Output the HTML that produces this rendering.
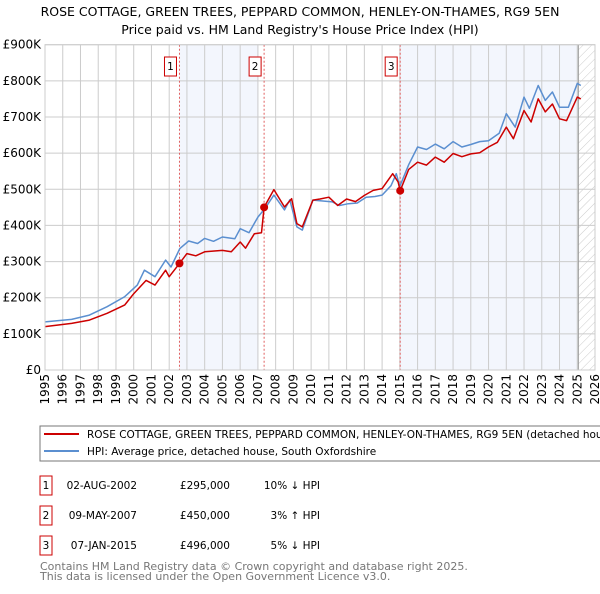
<!DOCTYPE html>
<html><head><meta charset="utf-8"><style>
body{margin:0;background:#fff;width:600px;height:590px;overflow:hidden;font-family:"DejaVu Sans","Liberation Sans",sans-serif;}
svg text{font-family:"DejaVu Sans","Liberation Sans",sans-serif;}
</style></head><body>
<svg id="chart" width="600" height="590" xmlns="http://www.w3.org/2000/svg">
<defs><pattern id="hatch" width="6" height="6" patternUnits="userSpaceOnUse" patternTransform="rotate(45)"><line x1="0" y1="0" x2="0" y2="6" stroke="#ccc" stroke-width="1"/></pattern></defs>
<text x="300" y="16" text-anchor="middle" font-size="12.5">ROSE COTTAGE, GREEN TREES, PEPPARD COMMON, HENLEY-ON-THAMES, RG9 5EN</text>
<text x="300" y="34" text-anchor="middle" font-size="12.5">Price paid vs. HM Land Registry's House Price Index (HPI)</text>
<g id="plot"></g>
<g>
<rect x="40" y="426" width="580" height="35" fill="#fff" stroke="#777"/>
<line x1="44" y1="434" x2="79" y2="434" stroke="#cc0000" stroke-width="2"/>
<text x="87" y="438" font-size="10.5">ROSE COTTAGE, GREEN TREES, PEPPARD COMMON, HENLEY-ON-THAMES, RG9 5EN (detached house)</text>
<line x1="44" y1="451" x2="79" y2="451" stroke="#5b8fd0" stroke-width="2"/>
<text x="87" y="455" font-size="10.5">HPI: Average price, detached house, South Oxfordshire</text>
</g>
<g font-size="10.5">
<rect x="40" y="476" width="12" height="19" fill="#fff" stroke="#cc0000"/><text x="46" y="489" text-anchor="middle">1</text>
<text x="137" y="489" text-anchor="end">02-AUG-2002</text><text x="230" y="489" text-anchor="end">£295,000</text><text x="320" y="489" text-anchor="end">10% ↓ HPI</text>
<rect x="40" y="506" width="12" height="19" fill="#fff" stroke="#cc0000"/><text x="46" y="519" text-anchor="middle">2</text>
<text x="137" y="519" text-anchor="end">09-MAY-2007</text><text x="230" y="519" text-anchor="end">£450,000</text><text x="320" y="519" text-anchor="end">3% ↑ HPI</text>
<rect x="40" y="536" width="12" height="19" fill="#fff" stroke="#cc0000"/><text x="46" y="549" text-anchor="middle">3</text>
<text x="137" y="549" text-anchor="end">07-JAN-2015</text><text x="230" y="549" text-anchor="end">£496,000</text><text x="320" y="549" text-anchor="end">5% ↓ HPI</text>
</g>
<text x="40" y="570" font-size="11" fill="#777">Contains HM Land Registry data © Crown copyright and database right 2025.</text>
<text x="40" y="580" font-size="11" fill="#777">This data is licensed under the Open Government Licence v3.0.</text>
</svg>
<script>
const hpiYears=[1995,1996.5,1997.5,1998.5,1999.5,2000.2,2000.6,2001.2,2001.8,2002.1,2002.6,2003.1,2003.6,2004,2004.5,2005,2005.7,2006,2006.5,2007,2007.4,2007.9,2008.5,2008.8,2009.2,2009.5,2010.1,2010.5,2011.2,2011.6,2012.1,2012.6,2013.1,2013.6,2014,2014.5,2014.8,2015.0,2015.5,2016,2016.5,2017,2017.5,2018,2018.5,2019,2019.5,2020,2020.6,2021,2021.5,2022,2022.3,2022.8,2023.2,2023.6,2024,2024.5,2025,2025.2];
const hpiValues=[133,140,152,175,203,235,276,258,304,285,336,357,350,364,356,368,363,391,380,423,447,484,443,471,396,387,470,468,465,455,460,462,478,480,484,510,543,508,568,617,610,625,612,632,617,624,632,634,655,709,672,755,724,787,746,769,727,727,793,787];
const redYears=[1995,1996.5,1997.5,1998.5,1999.5,2000,2000.7,2001.2,2001.8,2002,2002.58,2003,2003.5,2004,2005,2005.5,2006,2006.3,2006.8,2007.2,2007.35,2007.9,2008.5,2008.9,2009.2,2009.5,2010.1,2010.5,2011,2011.5,2012,2012.5,2013,2013.5,2014,2014.6,2014.9,2015.02,2015.5,2016,2016.5,2017,2017.5,2018,2018.5,2019,2019.5,2020,2020.5,2021,2021.4,2022,2022.4,2022.8,2023.2,2023.6,2024,2024.4,2025,2025.2];
const redValues=[120,129,138,157,180,211,248,235,276,258,295,322,316,327,331,327,354,337,377,380,450,499,451,474,405,396,470,473,478,455,473,466,483,497,502,543,520,496,555,575,567,589,575,599,590,598,601,617,630,672,640,718,686,750,714,736,695,690,755,750];
const saleYears=[2002.58,2007.35,2015.02];
const saleValues=[295,450,496];
const saleLabels=["1","2","3"];
const yTicks=[0,100,200,300,400,500,600,700,800,900];
const yTickLabels=["£0","£100K","£200K","£300K","£400K","£500K","£600K","£700K","£800K","£900K"];
const xTicks=[1995,1996,1997,1998,1999,2000,2001,2002,2003,2004,2005,2006,2007,2008,2009,2010,2011,2012,2013,2014,2015,2016,2017,2018,2019,2020,2021,2022,2023,2024,2025,2026];
const shadeRanges=[[2002.58,2007.04],[2015.02,2025.06]];
const dataEnd=2025.06;

const L=45,R=595,T=44.7,B=370,x0=1995,x1=2026,ymax=900;
const X=v=>L+(v-x0)/(x1-x0)*(R-L);
const Y=v=>B-v/ymax*(B-T);
const NS="http://www.w3.org/2000/svg";
const g=document.getElementById('plot');
function mk(t,a){const e=document.createElementNS(NS,t);for(const k in a)e.setAttribute(k,a[k]);g.appendChild(e);return e;}
shadeRanges.forEach(r=>{const e=mk('rect',{x:X(r[0]),y:T,width:X(r[1])-X(r[0]),height:B-T,fill:'#f3f6fd'});

});
const h=mk('rect',{x:X(dataEnd),y:T,width:R-X(dataEnd),height:B-T,fill:'url(#hatch)'});


yTicks.forEach((v,i)=>{mk('line',{x1:L,x2:R,y1:Y(v),y2:Y(v),stroke:'#ccc','stroke-width':1});
const t=mk('text',{x:L-4,y:Y(v)+4,'text-anchor':'end','font-size':12});t.textContent=yTickLabels[i];

});
xTicks.forEach(v=>{mk('line',{x1:X(v),x2:X(v),y1:T,y2:B,stroke:'#ccc','stroke-width':1});
const t=mk('text',{x:X(v)+4,y:B+4,'text-anchor':'end','font-size':12,transform:`rotate(-90 ${X(v)+4} ${B+4})`});t.textContent=v;

});
mk('line',{x1:X(dataEnd),x2:X(dataEnd),y1:T,y2:B,stroke:'#999','stroke-width':1});
saleYears.forEach((v,i)=>{mk('line',{x1:X(v),x2:X(v),y1:T,y2:B,stroke:'#e06060','stroke-width':1,'stroke-dasharray':'2,2'});});
function path(xs,ys,c,n){const d=xs.map((v,i)=>(i?'L':'M')+X(v).toFixed(1)+','+Y(ys[i]).toFixed(1)).join('');
const p=mk('path',{d:d,fill:'none',stroke:c,'stroke-width':1.5,'stroke-linejoin':'round'});

}
path(hpiYears,hpiValues,'#5b8fd0','hpi-line');
path(redYears,redValues,'#cc0000','price-paid-line');
saleYears.forEach((v,i)=>{const c=mk('circle',{cx:X(v),cy:Y(saleValues[i]),r:4,fill:'#cc0000'});


const bx=X(v)-15;const r=mk('rect',{x:bx,y:57,width:12,height:19,fill:'#fff',stroke:'#cc0000'});


const t=mk('text',{x:bx+6,y:70,'text-anchor':'middle','font-size':10.5});t.textContent=saleLabels[i];

});
const f=mk('rect',{x:L,y:T,width:R-L,height:B-T,fill:'none',stroke:'#ccc'});


</script>
</body></html>
